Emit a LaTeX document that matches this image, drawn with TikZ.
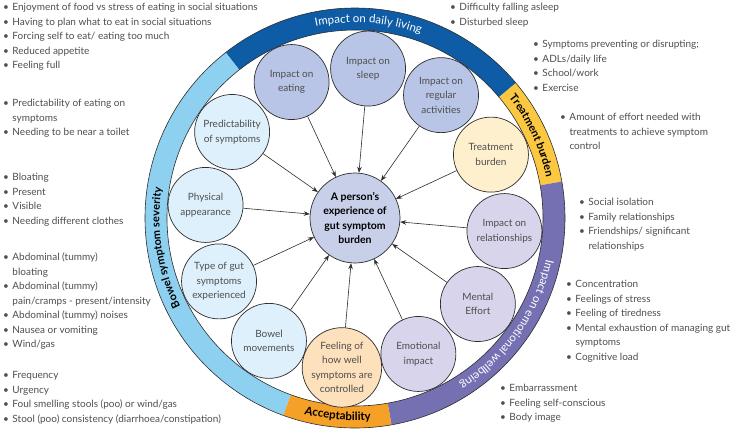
\documentclass[tikz,border=0pt]{standalone}
\usepackage{fontspec}
\setmainfont{Lato}
\usepackage{tikz}
\usepackage{xcolor}
\usetikzlibrary{arrows.meta,decorations.text}
\definecolor{dailyBlue}{RGB}{14,91,166}
\definecolor{bowelBlue}{RGB}{142,208,240}
\definecolor{treatYellow}{RGB}{252,200,66}
\definecolor{emoPurple}{RGB}{117,112,178}
\definecolor{accOrange}{RGB}{245,161,40}
\definecolor{skyFill}{RGB}{222,240,251}
\definecolor{slateFill}{RGB}{184,197,230}
\definecolor{creamFill}{RGB}{255,240,205}
\definecolor{lilacFill}{RGB}{215,212,236}
\definecolor{peachFill}{RGB}{253,224,188}
\definecolor{hubFill}{RGB}{200,208,233}
\definecolor{textGrey}{RGB}{78,78,78}
\definecolor{lineGrey}{RGB}{45,45,45}

\begin{document}
\begin{tikzpicture}[x=1pt,y=1pt,
    topic/.style={circle,draw=lineGrey,line width=0.7pt,minimum size=75pt,inner sep=0pt,
                  align=center,text=textGrey,font=\fontsize{10}{14.5}\selectfont},
    feed/.style={-{Stealth[length=6pt,width=4.5pt]},lineGrey,line width=0.6pt},
    notes/.style={anchor=north west,inner sep=0pt,text=textGrey,font=\fontsize{10}{14.5}\selectfont}]
    \useasboundingbox (-355,-214) rectangle (389,218);

    % outer ring
    \foreach \from/\to/\col in {40/128/dailyBlue, 10/40/treatYellow, -80/10/emoPurple,
                                -110/-80/accOrange, 128/250/bowelBlue} {
        \fill[\col] (\from:210) arc (\from:\to:210) -- (\to:188) arc (\to:\from:188) -- cycle;
    }
    \draw[lineGrey,line width=0.6pt] (0,0) circle (210) (0,0) circle (188);

    % ring labels
    \path[decorate,decoration={text along path,text align=center,text color=white,
        text={|\fontsize{11.5}{13}\selectfont|Impact on daily living}}]
        (130:195.5) arc (130:42:195.5);
    \path[decorate,decoration={text along path,text align=center,
        text={|\fontsize{11}{13}\selectfont\bfseries|Treatment burden}}]
        (40:195.5) arc (40:10:195.5);
    \path[decorate,decoration={text along path,text align=center,text color=white,
        text={|\fontsize{11.5}{13}\selectfont|Impact on emotional wellbeing}}]
        (10:195.5) arc (10:-80:195.5);
    \path[decorate,decoration={text along path,text align=center,
        text={|\fontsize{11.5}{13}\selectfont\bfseries|Acceptability}}]
        (-110:202.5) arc (-110:-80:202.5);
    \path[decorate,decoration={text along path,text align=center,
        text={|\fontsize{11}{13}\selectfont\bfseries|Bowel symptom severity}}]
        (250:195.5) arc (250:128:195.5);

    % centre
    \node[circle,draw=lineGrey,line width=0.7pt,fill=hubFill,minimum size=90pt,inner sep=0pt,
          align=center,font=\fontsize{10.5}{14.5}\selectfont\bfseries] (burden) at (0,0)
          {A person's\\experience of\\gut symptom\\burden};

    % domains round the centre
    \foreach \ang/\name/\col/\txt in {
        115/eating/slateFill/{Impact on\\eating},
        85/sleep/slateFill/{Impact on\\sleep},
        55/activities/slateFill/{Impact on\\regular\\activities},
        25/treatment/creamFill/{Treatment\\burden},
        -5/relations/lilacFill/{Impact on\\relationships},
        -35/effort/lilacFill/{Mental\\Effort},
        -65/emotion/lilacFill/{Emotional\\impact},
        -95/control/peachFill/{Feeling of\\how well\\symptoms are\\controlled},
        -125/bowel/skyFill/{Bowel\\movements},
        -155/gut/skyFill/{Type of gut\\symptoms\\experienced},
        175/looks/skyFill/{Physical\\appearance},
        145/predict/skyFill/{Predictability\\of symptoms}} {
        \node[topic,fill=\col] (\name) at (\ang:150) {\txt};
        \draw[feed] (\name) -- (burden);
    }

    % notes, left side
    \node[notes] (n1) at (-352,217.6) {\begin{tabular}{@{}l@{\hspace{3.5pt}}l@{}}
        \textbullet & Enjoyment of food vs stress of eating in social situations\\
        \textbullet & Having to plan what to eat in social situations\\
        \textbullet & Forcing self to eat/ eating too much\\
        \textbullet & Reduced appetite\\
        \textbullet & Feeling full\end{tabular}};
    \node[notes] (n2) at (-352,121.6) {\begin{tabular}{@{}l@{\hspace{3.5pt}}l@{}}
        \textbullet & Predictability of eating on\\
                    & symptoms\\
        \textbullet & Needing to be near a toilet\end{tabular}};
    \node[notes] (n3) at (-352,47.6) {\begin{tabular}{@{}l@{\hspace{3.5pt}}l@{}}
        \textbullet & Bloating\\
        \textbullet & Present\\
        \textbullet & Visible\\
        \textbullet & Needing different clothes\end{tabular}};
    \node[notes] (n4) at (-352,-32.4) {\begin{tabular}{@{}l@{\hspace{3.5pt}}l@{}}
        \textbullet & Abdominal (tummy)\\
                    & bloating\\
        \textbullet & Abdominal (tummy)\\
                    & pain/cramps - present/intensity\\
        \textbullet & Abdominal (tummy) noises\\
        \textbullet & Nausea or vomiting\\
        \textbullet & Wind/gas\end{tabular}};
    \node[notes] (n5) at (-352,-150.4) {\begin{tabular}{@{}l@{\hspace{3.5pt}}l@{}}
        \textbullet & Frequency\\
        \textbullet & Urgency\\
        \textbullet & Foul smelling stools (poo) or wind/gas\\
        \textbullet & Stool (poo) consistency (diarrhoea/constipation)\end{tabular}};

    % notes, right side
    \node[notes] (n6) at (95,217.6) {\begin{tabular}{@{}l@{\hspace{3.5pt}}l@{}}
        \textbullet & Difficulty falling asleep\\
        \textbullet & Disturbed sleep\end{tabular}};
    \node[notes] (n7) at (178,180.6) {\begin{tabular}{@{}l@{\hspace{3.5pt}}l@{}}
        \textbullet & Symptoms preventing or disrupting;\\
        \textbullet & ADLs/daily life\\
        \textbullet & School/work\\
        \textbullet & Exercise\end{tabular}};
    \node[notes] (n8) at (205,107.6) {\begin{tabular}{@{}l@{\hspace{3.5pt}}l@{}}
        \textbullet & Amount of effort needed with\\
                    & treatments to achieve symptom\\
                    & control\end{tabular}};
    \node[notes] (n9) at (224,22.6) {\begin{tabular}{@{}l@{\hspace{3.5pt}}l@{}}
        \textbullet & Social isolation\\
        \textbullet & Family relationships\\
        \textbullet & Friendships/ significant\\
                    & relationships\end{tabular}};
    \node[notes] (n10) at (211,-59.4) {\begin{tabular}{@{}l@{\hspace{3.5pt}}l@{}}
        \textbullet & Concentration\\
        \textbullet & Feelings of stress\\
        \textbullet & Feeling of tiredness\\
        \textbullet & Mental exhaustion of managing gut\\
                    & symptoms\\
        \textbullet & Cognitive load\end{tabular}};
    \node[notes] (n11) at (145,-163.4) {\begin{tabular}{@{}l@{\hspace{3.5pt}}l@{}}
        \textbullet & Embarrassment\\
        \textbullet & Feeling self-conscious\\
        \textbullet & Body image\end{tabular}};
\end{tikzpicture}
\end{document}
